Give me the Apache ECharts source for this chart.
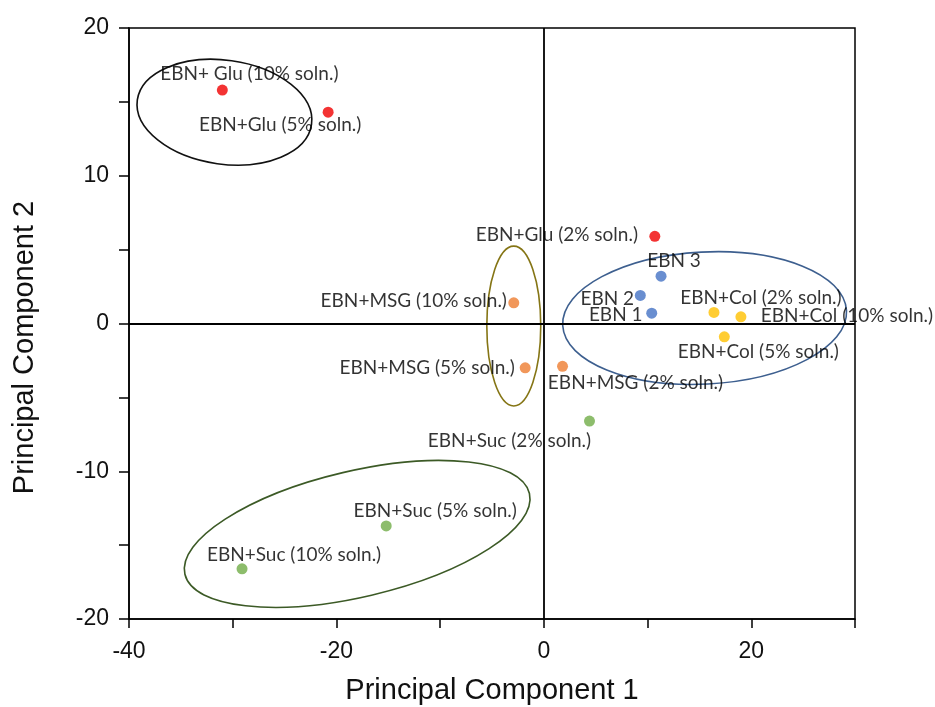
<!DOCTYPE html>
<html>
<head>
<meta charset="utf-8">
<script src="https://cdn.jsdelivr.net/npm/echarts@6/dist/echarts.min.js"></script>
<style>
  html, body { margin: 0; padding: 0; background: #fff; }
  #main { width: 935px; height: 707px; }
</style>
</head>
<body>
<div id="main"></div>
<script>
// PCA scores
const gluNames = ['EBN+ Glu (10% soln.)', 'EBN+Glu (5% soln.)', 'EBN+Glu (2% soln.)'];
const gluPc1 = [-31.0, -20.8, 10.7];
const gluPc2 = [15.8, 14.3, 5.9];

const ebnNames = ['EBN 3', 'EBN 2', 'EBN 1'];
const ebnPc1 = [11.3, 9.3, 10.4];
const ebnPc2 = [3.2, 1.9, 0.7];

const colNames = ['EBN+Col (2% soln.)', 'EBN+Col (10% soln.)', 'EBN+Col (5% soln.)'];
const colPc1 = [16.4, 19.0, 17.4];
const colPc2 = [0.75, 0.45, -0.9];

const msgNames = ['EBN+MSG (10% soln.)', 'EBN+MSG (5% soln.)', 'EBN+MSG (2% soln.)'];
const msgPc1 = [-2.9, -1.8, 1.8];
const msgPc2 = [1.4, -3.0, -2.9];

const sucNames = ['EBN+Suc (2% soln.)', 'EBN+Suc (5% soln.)', 'EBN+Suc (10% soln.)'];
const sucPc1 = [4.4, -15.2, -29.1];
const sucPc2 = [-6.6, -13.7, -16.6];

// grouping ellipses: centre, half axes (in axis units), tilt in degrees
const ellCx = [-30.8, -2.9, 15.5, -18.0];
const ellCy = [14.3, -0.17, 0.37, -14.24];
const ellRx = [8.48, 2.6, 13.7, 17.06];
const ellRy = [3.52, 5.41, 4.47, 4.26];
const ellTilt = [-8, 0, 3, 13.2];
const ellColors = ['#111111', '#857515', '#3d5f8f', '#3c5a26'];

// label placement (pixel offset of the text centre from its dot)
const labelOffset = {
    'EBN+ Glu (10% soln.)': [27, -16],
    'EBN+Glu (5% soln.)': [-48, 13],
    'EBN+Glu (2% soln.)': [-98, -1],
    'EBN 3': [13, -15],
    'EBN 2': [-33, 3],
    'EBN 1': [-36, 2],
    'EBN+Col (2% soln.)': [47, -15],
    'EBN+Col (10% soln.)': [106, -1],
    'EBN+Col (5% soln.)': [34, 15],
    'EBN+MSG (10% soln.)': [-100, -2],
    'EBN+MSG (5% soln.)': [-98, 0],
    'EBN+MSG (2% soln.)': [73, 17],
    'EBN+Suc (2% soln.)': [-80, 20],
    'EBN+Suc (5% soln.)': [49, -15],
    'EBN+Suc (10% soln.)': [52, -14]
};

function makePoints(names, xs, ys) {
    return names.map((n, i) => ({
        name: n,
        value: [xs[i], ys[i]],
        label: { offset: labelOffset[n] }
    }));
}

function scatter(name, color, names, xs, ys) {
    return {
        name: name,
        type: 'scatter',
        symbol: 'circle',
        symbolSize: 11,
        itemStyle: { color: color },
        label: {
            show: true,
            position: 'inside',
            formatter: '{b}',
            color: '#000',
            fontFamily: 'Lato',
            fontSize: 19
        },
        data: makePoints(names, xs, ys),
        z: 5
    };
}

const axisFont = 'Liberation Sans, Arial, sans-serif';

const chart = echarts.init(document.getElementById('main'));
chart.setOption({
    backgroundColor: '#fff',
    animation: false,
    grid: {
        left: 129, right: 80, top: 28, bottom: 88,
        outerBoundsMode: 'none',
        containLabel: false,
        show: true, borderColor: '#000', borderWidth: 1.5
    },
    xAxis: {
        type: 'value',
        min: -40, max: 30, interval: 10,
        name: 'Principal Component 1',
        nameLocation: 'middle',
        nameGap: 57,
        nameTextStyle: { fontFamily: axisFont, fontSize: 29, color: '#111' },
        axisLine: { onZero: false, lineStyle: { color: '#000', width: 1.5 } },
        axisTick: { length: 9, lineStyle: { color: '#000', width: 1.5 } },
        axisLabel: {
            margin: 21,
            fontFamily: axisFont, fontSize: 23, color: '#111',
            formatter: v => (v % 20 === 0 ? String(v) : '')
        },
        splitLine: { show: false }
    },
    yAxis: {
        type: 'value',
        min: -20, max: 20, interval: 5,
        name: 'Principal Component 2',
        nameLocation: 'middle',
        nameGap: 90,
        nameTextStyle: { fontFamily: axisFont, fontSize: 29, color: '#111', padding: [0, 48, 0, 0] },
        axisLine: { onZero: false, lineStyle: { color: '#000', width: 1.5 } },
        axisTick: { length: 10, lineStyle: { color: '#000', width: 1.5 } },
        axisLabel: {
            margin: 20,
            fontFamily: axisFont, fontSize: 23, color: '#111',
            formatter: v => (v % 10 === 0 ? String(v) : '')
        },
        splitLine: { show: false }
    },
    series: [
        {
            // ellipses drawn around the groups
            type: 'custom',
            silent: true,
            z: 3,
            data: ellCx.map((cx, i) => [cx, ellCy[i], ellRx[i], ellRy[i], ellTilt[i], i]),
            renderItem: function (params, api) {
                const c = api.coord([api.value(0), api.value(1)]);
                const s = api.size([1, 1]);
                return {
                    type: 'ellipse',
                    x: c[0],
                    y: c[1],
                    rotation: api.value(4) * Math.PI / 180,
                    shape: { cx: 0, cy: 0, rx: api.value(2) * s[0], ry: api.value(3) * s[1] },
                    style: { fill: 'none', stroke: ellColors[api.value(5)], lineWidth: 1.6 }
                };
            }
        },
        scatter('Glu', '#f00000', gluNames, gluPc1, gluPc2),
        scatter('EBN', '#4472c4', ebnNames, ebnPc1, ebnPc2),
        scatter('Col', '#ffc000', colNames, colPc1, colPc2),
        scatter('MSG', '#ed7d31', msgNames, msgPc1, msgPc2),
        Object.assign(scatter('Suc', '#70ad47', sucNames, sucPc1, sucPc2), {
            // cross lines through the origin
            markLine: {
                silent: true,
                symbol: 'none',
                label: { show: false },
                lineStyle: { color: '#000', width: 1.8, type: 'solid' },
                data: [{ xAxis: 0 }, { yAxis: 0 }]
            }
        })
    ]
});
</script>
</body>
</html>
